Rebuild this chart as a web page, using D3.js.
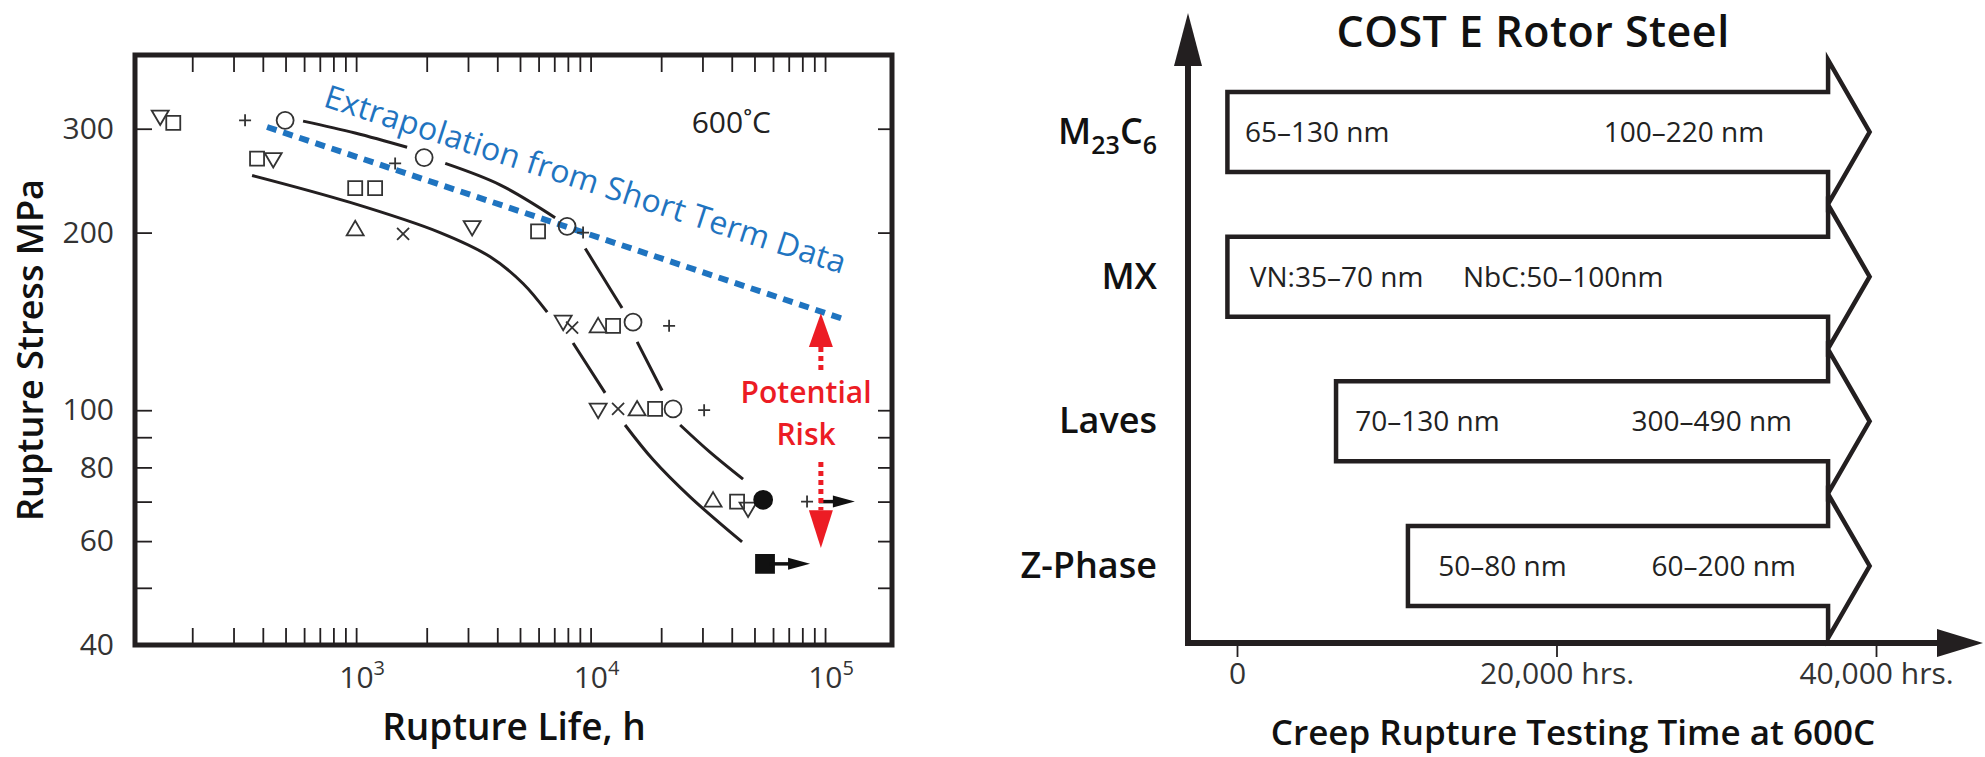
<!DOCTYPE html>
<meta charset="utf-8">
<style>
    body { margin: 0; background: #fff; }
    svg { display: block; font-family: "Open Sans", "DejaVu Sans", sans-serif; }
    .frame { fill: none; stroke: #231f20; stroke-width: 5; }
    .ax line { stroke: #231f20; stroke-width: 1.8; }
    .ax text { font-size: 30px; fill: #333; font-family: "Open Sans", sans-serif; }
    .mk { fill: none; stroke: #333; stroke-width: 1.8; }
    .mk.solid { fill: #111; stroke: #111; }
    .fit { fill: none; stroke: #231f20; stroke-width: 3; }
    .extra { fill: none; stroke: #1f74c0; stroke-width: 6; stroke-dasharray: 10 7; }
    .risk { fill: #ec1c24; }
    .boxes path { fill: #fff; stroke: #231f20; stroke-width: 4.5; stroke-linejoin: miter; }
</style>

<body>
<div id="chart"></div>
<script src="https://d3js.org/d3.v7.min.js"></script>
<script>
    // ---------- left panel: creep rupture data at 600 C (life in h, stress in MPa)
    var triDownPts = [[146, 314], [443, 266], [3125, 204], [7640, 141], [10770, 100], [46950, 68]];
    var squarePts = [[166, 307], [378, 267], [991, 238], [1205, 238], [5970, 201], [12470, 139], [18840, 100.5], [42150, 70]];
    var plusPts = [[336, 310], [1467, 262], [9290, 200], [21620, 139], [30500, 100], [83800, 70]];
    var circlePts = [[498, 310], [1950, 268], [7940, 205], [15170, 141], [22480, 100.5]];
    var triUpPts = [[991, 203], [10770, 139], [15790, 100.5], [33300, 70.4]];
    var crossPts = [[1586, 199], [8340, 138], [13100, 100.5]];
    var dotPts = [[54450, 70.5]];
    var blockPts = [[55460, 54.9]];
    // run-out (unbroken) specimens: from, to, stress
    var runOuts = [[98000, 134000, 70], [60000, 86300, 54.9]];

    // scatter band curves, null = gap around the symbols
    var upperFit = [[594, 309], [990, 295], [1650, 279], null,
        [2400, 262], [4110, 241], [7060, 212], null,
        [9490, 188], [11300, 168], [13620, 149], null,
        [15800, 130.6], [20180, 108], null,
        [24100, 94.4], [32300, 84.9], [44700, 76.4]];
    var lowerFit = [[360, 250], [943, 225], [2280, 200], [3730, 182], [5150, 164], [6530, 146.6], null,
        [8420, 130], [11530, 107], null,
        [14030, 94.4], [18490, 82.4], [26560, 71.3], [44260, 59.8]];
    var extrapolation = [[417, 302], [118000, 143]];

    // red arrows at life 96000: tip, head base, end of dotted stem
    var riskUp = [146, 128, 116];
    var riskDown = [58.4, 67.7, 81.7];
    var riskLife = 96000;

    var stressTicks = [40, 50, 60, 70, 80, 90, 100, 200, 300];
    var stressLabels = [40, 60, 80, 100, 200, 300];
    var lifeLabels = [1e3, 1e4, 1e5];

    // ---------- right panel: precipitate sizes, COST E rotor steel
    var phases = ["M23C6", "MX", "Laves", "Z-Phase"];
    var phaseStart = [-600, -600, 6200, 10700];
    var testEnd = 37000, arrowTip = 39600;
    var earlySize = ["65–130 nm", "VN:35–70 nm", "70–130 nm", "50–80 nm"];
    var earlyAt = [500, 800, 7400, 12600];
    var lateSize = ["100–220 nm", "NbC:50–100nm", "300–490 nm", "60–200 nm"];
    var lateAt = [22950, 14150, 24700, 25950];
    var timeTicks = [0, 20000, 40000];
    var timeLabels = ["0", "20,000 hrs.", "40,000 hrs."];

    var width = 1985, height = 757;
    var svg = d3.select("#chart").append("svg")
        .attr("width", width)
        .attr("height", height);

    // ================= left panel =================
    var x = d3.scaleLog().domain([114, 193000]).range([135, 892]);
    var y = d3.scaleLog().domain([40, 400]).range([645, 55]);
    var left = svg.append("g");

    left.append("g").attr("class", "ax")
        .attr("transform", "translate(0,645)")
        .call(d3.axisBottom(x).tickValues(x.ticks()).tickSize(-17).tickFormat(""));
    left.append("g").attr("class", "ax")
        .attr("transform", "translate(0,55)")
        .call(d3.axisTop(x).tickValues(x.ticks()).tickSize(-17).tickFormat(""));
    left.append("g").attr("class", "ax")
        .attr("transform", "translate(135,0)")
        .call(d3.axisLeft(y).tickValues(stressTicks).tickSize(-17).tickPadding(21)
            .tickFormat(function (d) { return stressLabels.indexOf(d) >= 0 ? d : ""; }));
    left.append("g").attr("class", "ax")
        .attr("transform", "translate(892,0)")
        .call(d3.axisRight(y).tickValues(stressTicks).tickSize(-14).tickFormat(""));
    left.selectAll(".ax .domain").remove();

    // 10^n labels
    var lifeText = left.append("g").selectAll("text")
        .data(lifeLabels)
        .join("text")
        .attr("x", function (d) { return x(d) + 6; })
        .attr("y", 688)
        .attr("text-anchor", "middle")
        .attr("fill", "#333")
        .attr("font-size", 30)
        .text("10");
    lifeText.append("tspan")
        .attr("dy", -13)
        .attr("font-size", 20)
        .text(function (d) { return Math.round(Math.log10(d)); });

    left.append("rect").attr("class", "frame")
        .attr("x", 135).attr("y", 55)
        .attr("width", 892 - 135).attr("height", 645 - 55);

    // fitted bands
    var fitLine = d3.line()
        .defined(function (d) { return d; })
        .x(function (d) { return x(d[0]); })
        .y(function (d) { return y(d[1]); })
        .curve(d3.curveCatmullRom);
    left.append("path").attr("class", "fit").attr("d", fitLine(upperFit));
    left.append("path").attr("class", "fit").attr("d", fitLine(lowerFit));

    // extrapolation line
    left.append("path").attr("class", "extra").attr("d", fitLine(extrapolation));
    var p0 = [x(extrapolation[0][0]), y(extrapolation[0][1])];
    var p1 = [x(extrapolation[1][0]), y(extrapolation[1][1])];
    var ang = Math.atan2(p1[1] - p0[1], p1[0] - p0[0]);
    left.append("text")
        .attr("transform", "translate(" + p0[0] + "," + p0[1] + ") rotate(" + (ang * 180 / Math.PI - 0.5) + ") translate(46,-37)")
        .attr("fill", "#1f74c0")
        .attr("font-size", 32)
        .attr("textLength", 546)
        .attr("lengthAdjust", "spacing")
        .text("Extrapolation from Short Term Data");

    // symbols
    var shapes = {
        circle: "M8.5,0A8.5,8.5 0 1,1 -8.5,0A8.5,8.5 0 1,1 8.5,0Z",
        square: "M-7,-7H7V7H-7Z",
        triUp: "M0,-8L8.5,6.5H-8.5Z",
        triDown: "M0,8L8.5,-6.5H-8.5Z",
        plus: "M-6,0H6M0,-6V6",
        cross: "M-6,-6L6,6M-6,6L6,-6",
        dot: "M9,0A9,9 0 1,1 -9,0A9,9 0 1,1 9,0Z",
        block: "M-9,-9H9V9H-9Z"
    };
    function drawMarks(pts, shape, solid) {
        left.append("g").selectAll("path")
            .data(pts)
            .join("path")
            .attr("class", solid ? "mk solid" : "mk")
            .attr("transform", function (d) { return "translate(" + x(d[0]) + "," + y(d[1]) + ")"; })
            .attr("d", shapes[shape]);
    }
    drawMarks(triDownPts, "triDown");
    drawMarks(squarePts, "square");
    drawMarks(plusPts, "plus");
    drawMarks(circlePts, "circle");
    drawMarks(triUpPts, "triUp");
    drawMarks(crossPts, "cross");
    drawMarks(dotPts, "dot", true);
    drawMarks(blockPts, "block", true);

    // run-out arrows
    var ro = left.append("g").selectAll("g").data(runOuts).join("g");
    ro.append("line")
        .attr("x1", function (d) { return x(d[0]) - 4; })
        .attr("x2", function (d) { return x(d[1]) - 18; })
        .attr("y1", function (d) { return y(d[2]); })
        .attr("y2", function (d) { return y(d[2]); })
        .attr("stroke", "#111").attr("stroke-width", 3.5);
    ro.append("path")
        .attr("fill", "#111")
        .attr("d", function (d) {
            var tx = x(d[1]), ty = y(d[2]);
            return "M" + tx + "," + ty + "L" + (tx - 22) + "," + (ty - 6) + "L" + (tx - 22) + "," + (ty + 6) + "Z";
        });

    // potential risk arrows
    var rx = x(riskLife);
    left.append("path").attr("class", "risk")
        .attr("d", "M" + rx + "," + y(riskUp[0]) + "L" + (rx + 12) + "," + y(riskUp[1]) + "H" + (rx - 12) + "Z");
    left.append("line")
        .attr("x1", rx).attr("x2", rx)
        .attr("y1", y(riskUp[1])).attr("y2", y(riskUp[2]))
        .attr("stroke", "#ec1c24").attr("stroke-width", 5).attr("stroke-dasharray", "5 4");
    left.append("path").attr("class", "risk")
        .attr("d", "M" + rx + "," + y(riskDown[0]) + "L" + (rx + 12) + "," + y(riskDown[1]) + "H" + (rx - 12) + "Z");
    left.append("line")
        .attr("x1", rx).attr("x2", rx)
        .attr("y1", y(riskDown[2])).attr("y2", y(riskDown[1]))
        .attr("stroke", "#ec1c24").attr("stroke-width", 5).attr("stroke-dasharray", "5 4");
    left.append("text")
        .attr("x", x(83000)).attr("y", y(103))
        .attr("text-anchor", "middle").attr("fill", "#ec1c24").attr("font-size", 30).attr("font-weight", 600)
        .text("Potential");
    left.append("text")
        .attr("x", x(83000)).attr("y", y(87.3))
        .attr("text-anchor", "middle").attr("fill", "#ec1c24").attr("font-size", 30).attr("font-weight", 600)
        .text("Risk");

    left.append("text")
        .attr("x", x(27000)).attr("y", y(295))
        .attr("fill", "#222").attr("font-size", 30)
        .text("600˚C");

    // axis titles
    left.append("text")
        .attr("transform", "translate(43,350) rotate(-90)")
        .attr("text-anchor", "middle").attr("font-size", 36).attr("fill", "#111")
        .attr("font-weight", 600)
        .text("Rupture Stress MPa");
    left.append("text")
        .attr("x", 514).attr("y", 740)
        .attr("text-anchor", "middle").attr("font-size", 37).attr("fill", "#111")
        .attr("font-weight", 600)
        .text("Rupture Life, h");

    // ================= right panel =================
    var t = d3.scaleLinear().domain([0, 40000]).range([1237, 1876]);
    var ph = d3.scalePoint().domain(phases).range([132, 566]);
    var right = svg.append("g");
    var halfH = 40, wing = 32;

    var rows = phases.map(function (p, i) {
        return { name: p, start: phaseStart[i], early: earlySize[i], earlyAt: earlyAt[i], late: lateSize[i], lateAt: lateAt[i] };
    });

    right.append("g").attr("class", "boxes")
        .selectAll("path")
        .data(rows)
        .join("path")
        .attr("d", function (d) {
            var yc = ph(d.name), x0 = t(d.start), x1 = t(testEnd), xt = t(arrowTip);
            return "M" + x0 + "," + (yc - halfH) + "H" + x1 + "V" + (yc - halfH - wing) +
                "L" + xt + "," + yc + "L" + x1 + "," + (yc + halfH + wing) +
                "V" + (yc + halfH) + "H" + x0 + "Z";
        });

    right.append("g").selectAll("text")
        .data(rows)
        .join("text")
        .attr("x", function (d) { return t(d.earlyAt); })
        .attr("y", function (d) { return ph(d.name) + 10; })
        .attr("font-size", 28).attr("fill", "#222")
        .text(function (d) { return d.early; });
    right.append("g").selectAll("text")
        .data(rows)
        .join("text")
        .attr("x", function (d) { return t(d.lateAt); })
        .attr("y", function (d) { return ph(d.name) + 10; })
        .attr("font-size", 28).attr("fill", "#222")
        .text(function (d) { return d.late; });

    // phase names, digits as subscripts
    var names = right.append("g").selectAll("text")
        .data(rows)
        .join("text")
        .attr("x", 1157)
        .attr("y", function (d) { return ph(d.name) + 12; })
        .attr("text-anchor", "end")
        .attr("font-size", 36).attr("font-weight", 600).attr("fill", "#111");
    names.each(function (d) {
        var el = d3.select(this);
        var parts = d.name.match(/\d+|\D+/g);
        var low = false;
        parts.forEach(function (s) {
            var isNum = /^\d+$/.test(s);
            var ts = el.append("tspan").text(s);
            if (isNum) { ts.attr("font-size", 25).attr("dy", low ? 0 : 10); low = true; }
            else { ts.attr("dy", low ? -10 : 0); low = false; }
        });
    });

    // arrowed axes
    var axX = 1188, axY = 643;
    right.append("line")
        .attr("x1", axX).attr("x2", axX).attr("y1", axY + 3).attr("y2", 60)
        .attr("stroke", "#231f20").attr("stroke-width", 6);
    right.append("path").attr("fill", "#231f20")
        .attr("d", "M" + axX + ",13L" + (axX + 14) + ",66H" + (axX - 14) + "Z");
    right.append("line")
        .attr("x1", axX - 3).attr("x2", 1940).attr("y1", axY).attr("y2", axY)
        .attr("stroke", "#231f20").attr("stroke-width", 6);
    right.append("path").attr("fill", "#231f20")
        .attr("d", "M1983," + axY + "L1937," + (axY - 14) + "V" + (axY + 14) + "Z");

    right.append("g").attr("class", "ax")
        .attr("transform", "translate(0," + (axY + 3) + ")")
        .call(d3.axisBottom(t).tickValues(timeTicks).tickSize(11).tickPadding(6)
            .tickFormat(function (d, i) { return timeLabels[i]; }))
        .select(".domain").remove();

    right.append("text")
        .attr("x", 1533).attr("y", 47)
        .attr("text-anchor", "middle").attr("font-size", 43).attr("font-weight", 600).attr("fill", "#111")
        .attr("letter-spacing", 0.5)
        .text("COST E Rotor Steel");
    right.append("text")
        .attr("x", 1573).attr("y", 745)
        .attr("text-anchor", "middle").attr("font-size", 35).attr("font-weight", 600).attr("fill", "#111")
        .text("Creep Rupture Testing Time at 600C");
</script>
</body>
